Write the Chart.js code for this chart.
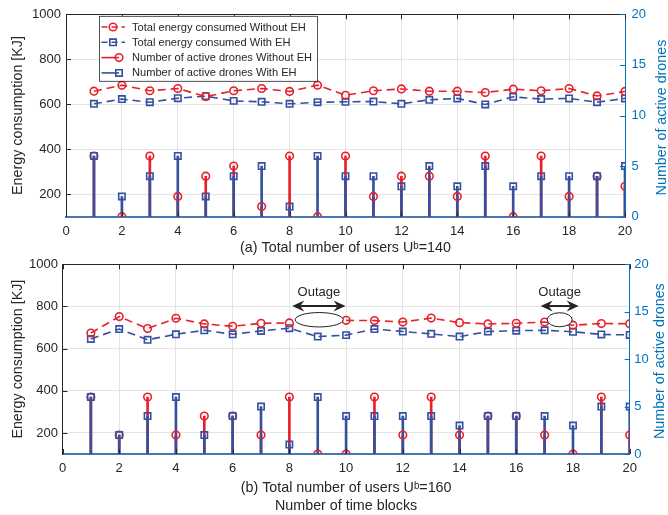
<!DOCTYPE html>
<html>
<head>
<meta charset="utf-8">
<title>Energy consumption and active drones</title>
<script src="https://cdn.jsdelivr.net/npm/chart.js@4.4.1/dist/chart.umd.min.js"></script>
<style>
  body { margin: 0; background: #ffffff; }
  #wrap { position: relative; width: 668px; height: 515px; overflow: hidden; }
  #wrap canvas { position: absolute; left: 0; }
  #chartA { top: 0; }
  #chartB { top: 250px; }
</style>
</head>
<body>
<div id="wrap">
  <canvas id="chartA" width="668" height="260"></canvas>
  <canvas id="chartB" width="668" height="265"></canvas>
</div>
<script>
// x axis: time blocks
var timeBlocks = [1, 2, 3, 4, 5, 6, 7, 8, 9, 10, 11, 12, 13, 14, 15, 16, 17, 18, 19, 20];

// (a) U^b = 140
var energyWithoutEhA = [658, 685, 660, 670, 634, 660, 670, 657, 685, 640, 660, 668, 658, 658, 652, 667, 660, 670, 637, 657];
var energyWithEhA = [602, 623, 609, 627, 636, 615, 611, 602, 609, 611, 612, 602, 620, 626, 599, 633, 623, 626, 609, 626];
var dronesWithoutEhA = [6, 0, 6, 2, 4, 5, 1, 6, 0, 6, 2, 4, 4, 2, 6, 0, 6, 2, 4, 3];
var dronesWithEhA = [6, 2, 4, 6, 2, 4, 5, 1, 6, 4, 4, 3, 5, 3, 5, 3, 4, 4, 4, 5];

// (b) U^b = 160  (no value at block 9 for the curve without EH: outage)
var energyWithoutEhB = [674, 752, 695, 744, 717, 706, 720, 722, null, 734, 733, 726, 745, 723, 717, 720, 726, 711, 719, 718];
var energyWithEhB = [646, 693, 642, 668, 687, 668, 684, 697, 657, 664, 693, 681, 670, 657, 681, 685, 687, 680, 667, 665];
var dronesWithoutEhB = [6, 2, 6, 2, 4, 4, 2, 6, 0, 0, 6, 2, 6, 2, 4, 4, 2, 0, 6, 2];
var dronesWithEhB = [6, 2, 4, 6, 2, 4, 5, 1, 6, 4, 4, 4, 4, 3, 4, 4, 4, 3, 5, 5];

var xTicks = { min: 0, max: 20, step: 2 };
var energyTicks = { min: 100, max: 1000, step: 200 };
var droneTicks = { min: 0, max: 20, step: 5 };

var RED = '#e8202b';
var BLUE = '#3650a0';
var AXIS_BLUE = '#0072bd';
var BASE_BLUE = '#4578b4';
var DARK = '#262626';
var GRID = '#e4e4e4';
var FONT = "'Liberation Sans', Arial, Helvetica, sans-serif";

Chart.defaults.font.family = FONT;
Chart.defaults.color = DARK;

function points(values) {
  return timeBlocks.map(function (t, i) { return { x: t, y: values[i] }; });
}

function plainNumber(value) {
  return String(value);
}

function drawMarker(ctx, kind, x, y, color) {
  ctx.strokeStyle = color;
  ctx.lineWidth = 1.6;
  ctx.setLineDash([]);
  ctx.beginPath();
  if (kind === 'circle') {
    ctx.arc(x, y, 3.8, 0, Math.PI * 2);
  } else {
    ctx.rect(x - 3.2, y - 3.2, 6.4, 6.4);
  }
  ctx.stroke();
}

function drawLegend(chart) {
  var ctx = chart.ctx, a = chart.chartArea;
  var ds = chart.data.datasets;
  var left = a.left + 33, top = a.top + 1.5, w = 218, h = 65;
  var items = [
    { text: ds[0].label, color: RED, dashed: true, marker: 'circle' },
    { text: ds[1].label, color: BLUE, dashed: true, marker: 'rect' },
    { text: ds[2].label, color: RED, dashed: false, marker: 'circle' },
    { text: ds[3].label, color: BLUE, dashed: false, marker: 'rect' }
  ];
  ctx.save();
  ctx.fillStyle = '#ffffff';
  ctx.fillRect(left, top, w, h);
  ctx.strokeStyle = DARK;
  ctx.lineWidth = 0.8;
  ctx.strokeRect(left + 0.5, top + 0.5, w, h);
  ctx.font = '11.1px ' + FONT;
  ctx.textBaseline = 'middle';
  ctx.textAlign = 'left';
  items.forEach(function (it, i) {
    var y = top + 11.2 + i * 15.3;
    ctx.strokeStyle = it.color;
    ctx.lineWidth = 1.6;
    ctx.beginPath();
    if (it.dashed) {
      ctx.setLineDash([6, 4]);
      ctx.moveTo(left + 2.5, y);
      ctx.lineTo(left + 26, y);
      ctx.stroke();
      drawMarker(ctx, it.marker, left + 14, y, it.color);
    } else {
      ctx.setLineDash([]);
      ctx.moveTo(left + 2.5, y);
      ctx.lineTo(left + 20, y);
      ctx.stroke();
      drawMarker(ctx, it.marker, left + 20, y, it.color);
    }
    ctx.fillStyle = DARK;
    ctx.fillText(it.text, left + 33, y + 0.5);
  });
  ctx.restore();
}

function arrowHead(ctx, x, y, dir) {
  ctx.beginPath();
  ctx.moveTo(x, y);
  ctx.lineTo(x + dir * 12, y - 5.5);
  ctx.lineTo(x + dir * 8, y);
  ctx.lineTo(x + dir * 12, y + 5.5);
  ctx.closePath();
  ctx.fill();
}

function decorPlugin(spec) {
  return {
    id: 'decor' + spec.key,
    afterDatasetsDraw: function (chart) {
      var ctx = chart.ctx, a = chart.chartArea;
      var sx = chart.scales.x, sy = chart.scales.y, sy2 = chart.scales.y2;
      ctx.save();
      // inward tick marks of the boxed axes
      ctx.lineWidth = 1;
      ctx.strokeStyle = DARK;
      ctx.beginPath();
      sx.ticks.forEach(function (t) {
        var px = Math.round(sx.getPixelForValue(t.value)) + 0.5;
        ctx.moveTo(px, a.top);
        ctx.lineTo(px, a.top + 5);
        ctx.moveTo(px, a.bottom);
        ctx.lineTo(px, a.bottom - 5);
      });
      sy.ticks.forEach(function (t) {
        var py = Math.round(sy.getPixelForValue(t.value)) + 0.5;
        ctx.moveTo(a.left, py);
        ctx.lineTo(a.left + 5, py);
      });
      ctx.stroke();
      ctx.strokeStyle = AXIS_BLUE;
      ctx.beginPath();
      sy2.ticks.forEach(function (t) {
        var py = Math.round(sy2.getPixelForValue(t.value)) + 0.5;
        ctx.moveTo(a.right, py);
        ctx.lineTo(a.right - 5, py);
      });
      ctx.stroke();

      // outage marks
      (spec.outages || []).forEach(function (o) {
        var cx = sx.getPixelForValue(o.ringX), cy = sy.getPixelForValue(o.ringY);
        ctx.beginPath();
        ctx.ellipse(cx, cy, o.rx, o.ry, 0, 0, Math.PI * 2);
        ctx.fillStyle = '#ffffff';
        ctx.fill();
        ctx.strokeStyle = '#222222';
        ctx.lineWidth = 1;
        ctx.stroke();

        var x1 = sx.getPixelForValue(o.from), x2 = sx.getPixelForValue(o.to);
        var ay = sy.getPixelForValue(o.arrowY);
        ctx.lineWidth = 2;
        ctx.beginPath();
        ctx.moveTo(x1 + 8, ay);
        ctx.lineTo(x2 - 8, ay);
        ctx.stroke();
        ctx.fillStyle = '#222222';
        arrowHead(ctx, x1, ay, 1);
        arrowHead(ctx, x2, ay, -1);

        ctx.fillStyle = DARK;
        ctx.font = '13px ' + FONT;
        ctx.textAlign = 'center';
        ctx.textBaseline = 'middle';
        ctx.fillText('Outage', (x1 + x2) / 2, sy.getPixelForValue(o.textY));
      });
      ctx.restore();
    },
    afterDraw: function (chart) {
      var ctx = chart.ctx, a = chart.chartArea;
      // right axis title reads upwards, like the left one
      ctx.save();
      ctx.translate(spec.rightTitleX, (a.top + a.bottom) / 2 + 2);
      ctx.rotate(-Math.PI / 2);
      ctx.fillStyle = AXIS_BLUE;
      ctx.font = '14.3px ' + FONT;
      ctx.textAlign = 'center';
      ctx.textBaseline = 'middle';
      ctx.fillText('Number of active drones', 0, 0);
      ctx.restore();
      if (spec.legend) drawLegend(chart);
    }
  };
}

function buildChart(canvasId, spec) {
  var datasets = [
    {
      label: 'Total energy consumed Without EH', type: 'line', yAxisID: 'y',
      data: points(spec.energyWithout), borderColor: RED, borderWidth: 1.6, borderDash: [8, 5],
      pointStyle: 'circle', pointRadius: 3.8, pointBorderWidth: 1.6, pointBorderColor: RED,
      pointBackgroundColor: 'rgba(0,0,0,0)', spanGaps: false, tension: 0, order: 1
    },
    {
      label: 'Total energy consumed With EH', type: 'line', yAxisID: 'y',
      data: points(spec.energyWith), borderColor: BLUE, borderWidth: 1.6, borderDash: [8, 5],
      pointStyle: 'rect', pointRadius: 4.5, pointBorderWidth: 1.6, pointBorderColor: BLUE,
      pointBackgroundColor: 'rgba(0,0,0,0)', tension: 0, order: 1
    },
    {
      label: 'Number of active drones Without EH', type: 'line', yAxisID: 'y2', showLine: false,
      data: points(spec.dronesWithout), borderColor: RED,
      pointStyle: 'circle', pointRadius: 3.8, pointBorderWidth: 1.6, pointBorderColor: RED,
      pointBackgroundColor: 'rgba(0,0,0,0)', order: 3
    },
    {
      label: 'Number of active drones With EH', type: 'line', yAxisID: 'y2', showLine: false,
      data: points(spec.dronesWith), borderColor: BLUE,
      pointStyle: 'rect', pointRadius: 4.5, pointBorderWidth: 1.6, pointBorderColor: BLUE,
      pointBackgroundColor: 'rgba(0,0,0,0)', order: 2
    },
    {
      label: 'stems With EH', type: 'bar', yAxisID: 'y2', grouped: false,
      data: points(spec.dronesWith), backgroundColor: BLUE, borderWidth: 0,
      barThickness: 2, order: 4
    },
    {
      label: 'stems Without EH', type: 'bar', yAxisID: 'y2', grouped: false,
      data: points(spec.dronesWithout), backgroundColor: RED, borderWidth: 0,
      barThickness: 2, order: 5
    }
  ];

  return new Chart(document.getElementById(canvasId), {
    type: 'line',
    data: { datasets: datasets },
    options: {
      responsive: false,
      animation: false,
      layout: { padding: { top: spec.padTop, left: 0, right: 0, bottom: 0 } },
      plugins: { legend: { display: false }, tooltip: { enabled: false } },
      scales: {
        x: {
          type: 'linear', position: 'bottom', min: xTicks.min, max: xTicks.max, offset: false,
          ticks: { stepSize: xTicks.step, padding: 7, maxRotation: 0, color: DARK, font: { size: 13 }, callback: plainNumber },
          grid: { color: GRID, drawTicks: false, offset: false },
          border: { color: BASE_BLUE, width: 2 },
          title: {
            display: true, text: spec.xTitle, color: DARK,
            font: { size: 14.3, lineHeight: '18px' }, padding: { top: 0, bottom: spec.titlePad }
          },
          afterFit: function (s) { s.height = spec.xHeight; }
        },
        xTop: {
          type: 'linear', position: 'top', min: xTicks.min, max: xTicks.max,
          ticks: { display: false }, grid: { display: false, drawTicks: false },
          border: { color: DARK, width: 1 },
          afterFit: function (s) { s.height = 0; }
        },
        y: {
          type: 'linear', position: 'left', min: energyTicks.min, max: energyTicks.max,
          ticks: { stepSize: energyTicks.step, padding: spec.leftPad, color: DARK, font: { size: 13 }, callback: plainNumber },
          afterBuildTicks: function (s) {
            s.ticks = s.ticks.filter(function (t) { return t.value >= 200; });
          },
          grid: { color: GRID, drawTicks: false },
          border: { color: DARK, width: 1 },
          title: {
            display: true, text: 'Energy consumption [KJ]', color: DARK,
            font: { size: 14.3 }, padding: { top: 9.5, bottom: 0 }
          },
          afterFit: function (s) { s.width = spec.leftWidth; }
        },
        y2: {
          type: 'linear', position: 'right', min: droneTicks.min, max: droneTicks.max,
          ticks: { stepSize: droneTicks.step, padding: spec.rightPad, color: AXIS_BLUE, font: { size: 13 }, callback: plainNumber },
          grid: { display: false, drawTicks: false },
          border: { color: AXIS_BLUE, width: 1 },
          afterFit: function (s) { s.width = spec.rightWidth; }
        }
      }
    },
    plugins: [decorPlugin(spec)]
  });
}

buildChart('chartA', {
  key: 'A',
  energyWithout: energyWithoutEhA, energyWith: energyWithEhA,
  dronesWithout: dronesWithoutEhA, dronesWith: dronesWithEhA,
  xTitle: '(a) Total number of users U\u1d47=140',
  padTop: 14, xHeight: 43.3, titlePad: 2.7,
  leftWidth: 66, rightWidth: 43, leftPad: 5, rightPad: 6.5,
  rightTitleX: 662, legend: true
});

buildChart('chartB', {
  key: 'B',
  energyWithout: energyWithoutEhB, energyWith: energyWithEhB,
  dronesWithout: dronesWithoutEhB, dronesWith: dronesWithEhB,
  xTitle: ['(b) Total number of users U\u1d47=160', 'Number of time blocks'],
  padTop: 14.3, xHeight: 61, titlePad: 0,
  leftWidth: 62.5, rightWidth: 38.3, leftPad: 4.5, rightPad: 4.5,
  rightTitleX: 660.5, legend: false,
  outages: [
    { from: 8.1, to: 9.98, ringX: 9.05, ringY: 737, rx: 24, ry: 7.2, arrowY: 802, textY: 865 },
    { from: 16.86, to: 18.2, ringX: 17.53, ringY: 737, rx: 12.5, ry: 7, arrowY: 802, textY: 865 }
  ]
});
</script>
</body>
</html>
